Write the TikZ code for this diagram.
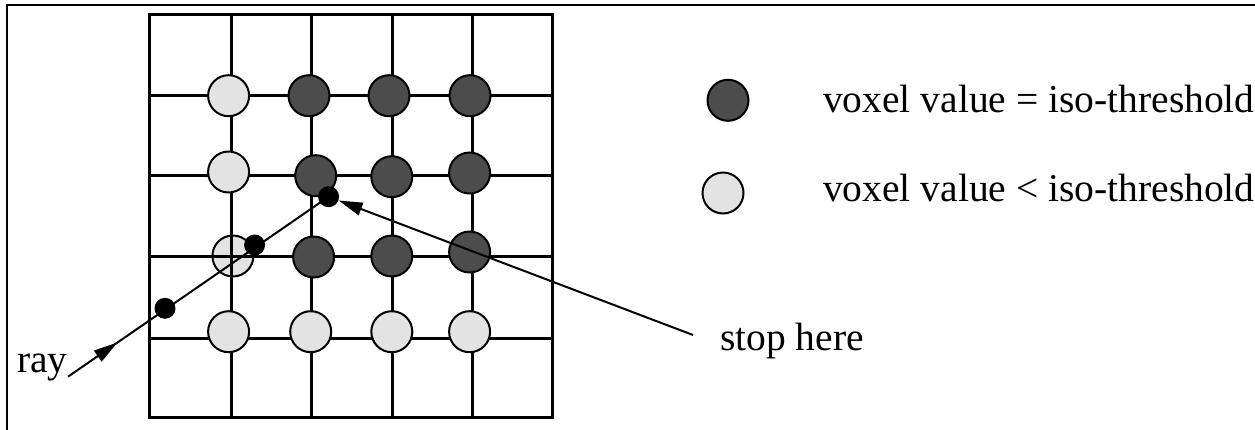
\documentclass[tikz,border=0pt]{standalone}
\usepackage{fontspec}
\setmainfont{Liberation Serif}
\usetikzlibrary{arrows.meta,decorations.markings}

\definecolor{voxdark}{gray}{0.30}
\definecolor{voxlight}{gray}{0.89}

\tikzset{
  gridline/.style={line width=3pt, line cap=rect},
  voxel/.style={circle, draw=black, line width=2pt, inner sep=0pt, minimum size=41pt},
  darkvox/.style={voxel, fill=voxdark},
  lightvox/.style={voxel, fill=voxlight},
  sample/.style={circle, fill=black, inner sep=0pt, minimum size=21pt},
  lbl/.style={inner sep=0pt, anchor=base west, font=\fontsize{39.5}{46}\selectfont},
  pointer/.style={line width=2pt, -{Triangle[length=24pt,width=13pt]}},
  raytip/.style={decoration={markings,
      mark=at position 0.19 with {\arrow{Triangle[length=24pt,width=13pt]}}},
      postaction={decorate}}
}

\begin{document}
\begin{tikzpicture}[x=1pt, y=-1pt]
  \useasboundingbox (0,0) rectangle (1255,430);

  % frame edges
  \draw[line width=2.2pt] (7.3,430) -- (7.3,4.7) -- (1255,4.7);

  % voxel lying under the grid lines
  \node[lightvox] (l31) at (232.9,256) {};

  % voxel grid
  \draw[gridline] (149.3,15) rectangle (552.9,417.3);
  \foreach \gx in {231.4,311.8,392,472.5}
    \draw[gridline] (\gx,15) -- (\gx,417.3);
  \foreach \gy in {95.7,175.7,256.7,338.3}
    \draw[gridline] (149.3,\gy) -- (552.9,\gy);

  % row 1
  \node[lightvox] (l11) at (228.6,95.7) {};
  \node[darkvox]  (d12) at (309,95.7) {};
  \node[darkvox]  (d13) at (389,95.7) {};
  \node[darkvox]  (d14) at (470,95.7) {};
  % row 2
  \node[lightvox] (l21) at (228.6,172) {};
  \node[darkvox]  (d22) at (315.7,175.7) {};
  \node[darkvox]  (d23) at (391.8,176.7) {};
  \node[darkvox]  (d24) at (469.6,173) {};
  % row 3
  \node[darkvox]  (d32) at (313.6,257) {};
  \node[darkvox]  (d33) at (391.8,256) {};
  \node[darkvox]  (d34) at (469.6,252) {};
  % row 4
  \node[lightvox] (l41) at (228.6,331.7) {};
  \node[lightvox] (l42) at (310.7,331.7) {};
  \node[lightvox] (l43) at (391.8,331.7) {};
  \node[lightvox] (l44) at (469.6,331.7) {};

  % ray samples
  \node[sample] (s1) at (165,308.3) {};
  \node[sample] (s2) at (254.6,245) {};
  \node[sample] (s3) at (328.6,196.7) {};

  % the ray
  \coordinate (raystart) at (68,376.7);
  \draw[line width=2pt, raytip] (raystart) -- (s3.center);
  \node[lbl] (raylbl) at (17,372) {ray};

  % stopping point
  \coordinate (stopstart) at (693,335);
  \draw[pointer] (stopstart) -- (s3);
  \node[lbl] (stoplbl) at (720,350) {stop here};

  % legend
  \node[darkvox]  (keyd) at (728,100.3) {};
  \node[lightvox] (keyl) at (723,193) {};
  \node[lbl] (keydtxt) at (823,113) {voxel value = iso-threshold};
  \node[lbl] (keyltxt) at (823,202) {voxel value < iso-threshold};
\end{tikzpicture}
\end{document}
